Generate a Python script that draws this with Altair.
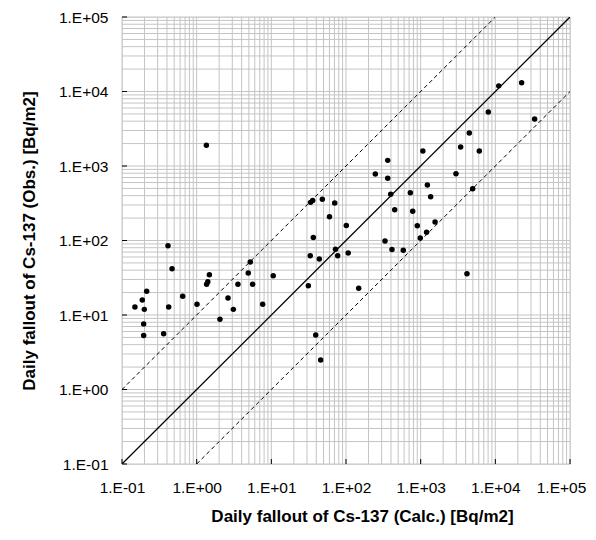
import altair as alt
import pandas as pd

calc = [0.149, 0.187, 0.199, 0.214, 0.195, 0.195, 0.413, 0.468, 0.422, 0.361,
        0.650, 1.01, 1.48, 1.41, 1.36, 2.05, 2.63, 3.10, 3.57, 4.91,
        5.22, 5.62, 7.66, 10.6, 36.5, 33.2, 43.9, 31.3, 39.3, 45.8,
        72.3, 77.4, 107, 1.35, 33.5, 35.8, 48.2, 70.6, 60.1, 101,
        11100, 22500, 8050, 33600, 4480, 3430, 6100, 1070, 362, 247,
        362, 2970, 4970, 1230, 397, 727, 1360, 449, 782, 1560,
        901, 1200, 988, 333, 413, 585, 148, 4170]
obs = [12.8, 15.9, 11.9, 20.8, 7.6, 5.3, 85, 41.8, 12.8, 5.6,
       17.8, 13.9, 34.8, 28, 25.8, 8.75, 16.9, 11.9, 25.8, 36.6,
       51.5, 25.8, 13.9, 33.7, 110, 62.5, 56.5, 24.7, 5.4, 2.49,
       76.2, 62.5, 68, 1897, 325, 345, 357, 319, 209, 159,
       11900, 13100, 5310, 4280, 2770, 1800, 1590, 1590, 1190, 781,
       684, 788, 496, 556, 417, 438, 387, 259, 247, 177,
       158, 129, 108, 98.5, 75.7, 73.9, 22.8, 35.8]

decades = [0.1, 1, 10, 100, 1000, 10000, 100000]
grid_vals = [k * d for d in decades[:-1] for k in range(1, 10)] + [100000]

line_names = ["1:1", "1:1", "x10", "x10", "x1/10", "x1/10"]
line_x = [0.1, 100000, 0.1, 10000, 1, 100000]
line_y = [0.1, 100000, 1, 100000, 0.1, 10000]

pts = pd.DataFrame({"calc": calc, "obs": obs})
grid = pd.DataFrame({"v": grid_vals})
lines = pd.DataFrame({"name": line_names, "x": line_x, "y": line_y})
dec = pd.DataFrame({"v": decades})

W, H = 448, 447
dom = [0.1, 100000]
label_expr = ("'1.E' + (datum.value < 0.99 ? '-' : '+') + "
              "(abs(round(log(datum.value)/LN10)) < 10 ? '0' : '') + "
              "abs(round(log(datum.value)/LN10))")
FONT = "Liberation Sans"

xs = alt.Scale(type="log", domain=dom, nice=False)
ys = alt.Scale(type="log", domain=dom, nice=False)

xaxis = alt.Axis(values=decades, labelExpr=label_expr, grid=False, ticks=False,
                 domain=False, labelFont=FONT, labelFontSize=15.5, labelColor="black",
                 labelPadding=16,
                 labelOffset={"condition": {"test": "datum.value > 50000", "value": -9},
                              "value": 0},
                 title="Daily fallout of Cs-137 (Calc.) [Bq/m2]",
                 titleFont=FONT, titleFontSize=17, titleFontWeight="bold",
                 titleColor="black", titleX=240, titleY=52, titleAnchor="middle",
                 titleBaseline="middle", labelFlush=False, labelBound=False)
yaxis = alt.Axis(values=decades, labelExpr=label_expr, grid=False, ticks=False,
                 domain=False, labelFont=FONT, labelFontSize=15.5, labelColor="black",
                 labelPadding=14,
                 title="Daily fallout of Cs-137 (Obs.) [Bq/m2]",
                 titleFont=FONT, titleFontSize=17, titleFontWeight="bold",
                 titleColor="black", titleX=-93, titleY=H / 2, titleAnchor="middle",
                 titleBaseline="middle", labelFlush=False)

gx = alt.Chart(grid).mark_rule(color="#c4c4c4", strokeWidth=1).encode(
    x=alt.X("v:Q", scale=xs, axis=xaxis))
gy = alt.Chart(grid).mark_rule(color="#c4c4c4", strokeWidth=1).encode(
    y=alt.Y("v:Q", scale=ys, axis=yaxis))

tx = alt.Chart(dec).mark_rule(color="black", strokeWidth=1).encode(
    x=alt.X("v:Q", scale=xs), y=alt.value(H - 5), y2=alt.value(H))
ty = alt.Chart(dec).mark_rule(color="black", strokeWidth=1).encode(
    y=alt.Y("v:Q", scale=ys), x=alt.value(0), x2=alt.value(5))

solid = alt.Chart(lines[lines.name == "1:1"]).mark_line(
    color="black", strokeWidth=1.3, clip=True).encode(
    x=alt.X("x:Q", scale=xs), y=alt.Y("y:Q", scale=ys))
dashed = alt.Chart(lines[lines.name != "1:1"]).mark_line(
    color="black", strokeWidth=1, strokeDash=[4, 3], clip=True).encode(
    x=alt.X("x:Q", scale=xs), y=alt.Y("y:Q", scale=ys), detail="name:N")

points = alt.Chart(pts).mark_circle(color="black", opacity=1, size=30).encode(
    x=alt.X("calc:Q", scale=xs), y=alt.Y("obs:Q", scale=ys))

chart = alt.layer(gx, gy, tx, ty, dashed, solid, points).properties(
    width=W, height=H,
    autosize=alt.AutoSizeParams(type="none"),
    padding={"left": 114, "top": 9, "right": 18, "bottom": 64},
).configure_view(stroke="black", strokeWidth=2).configure(background="white")

chart.save("out.html", embed_options={"renderer": "svg", "actions": False})
